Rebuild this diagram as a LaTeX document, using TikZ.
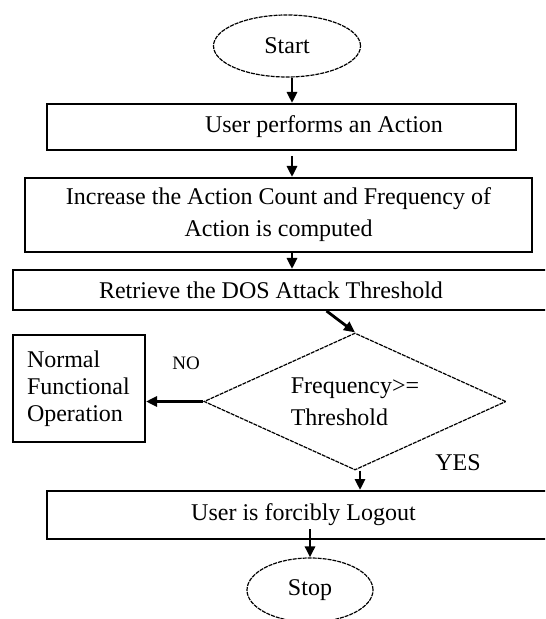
\documentclass[tikz,border=0pt]{standalone}
\usepackage{fontspec}
\setmainfont{Liberation Serif}
\usetikzlibrary{shapes.geometric,arrows.meta}

\begin{document}
\begin{tikzpicture}[x=0.5pt,y=-0.5pt,
  every node/.style={font=\fontsize{12pt}{16pt}\selectfont},
  box/.style={draw,line width=1pt,inner sep=0pt,align=center},
  oval/.style={draw,ellipse,line width=0.6pt,dash pattern=on 2pt off 0.5pt,inner sep=0pt},
  arr/.style={line width=1.4pt,-{Triangle[length=5.5pt,width=5pt]}}]
  \useasboundingbox (0,0) rectangle (545,619);
  \clip (0,0) rectangle (545,619);
  \coordinate (axis) at (292,0);
  % flow boxes
  \node[oval,minimum width=73.5pt,minimum height=31pt] (start) at (287,46) {Start};
  \node[box,minimum width=234.5pt,minimum height=23pt] (act) at (281.5,127) {\hspace*{42.5pt}User performs an Action};
  \node[box,minimum width=253.5pt,minimum height=37pt] (count) at (278.5,215) {Increase the Action Count and Frequency of\\Action is computed};
  \node[box,minimum width=273.5pt,minimum height=20pt] (thresh) at (286.5,290) {Retrieve the DOS Attack Threshold\hspace*{15.5pt}};
  \node[draw,diamond,aspect=2.2,line width=0.6pt,dash pattern=on 2pt off 0.5pt,inner sep=0pt,
        minimum width=151pt,minimum height=68.5pt,align=left] (dec) at (355,401.5) {Frequency>=\\Threshold\hspace*{5pt}};
  \node[box,minimum width=66pt,minimum height=53.5pt,text width=52pt,align=left,
        font=\fontsize{12pt}{13.5pt}\selectfont] (normal) at (79,388.5) {Normal\\Functional\\Operation\\[-3pt]};
  \node[box,minimum width=256.5pt,minimum height=24pt] (logout) at (303.5,515) {User is forcibly Logout};
  \node[oval,minimum width=63pt,minimum height=32pt] (stop) at (310,590) {Stop};
  % labels
  \node[font=\fontsize{9.5pt}{11pt}\selectfont] (no) at (186,363) {NO};
  \node (yes) at (458,463) {YES};
  % arrows
  \draw[arr] (start.south -| axis) -- (act.north -| axis);
  \draw[arr] ([yshift=-2.5pt]act.south -| axis) -- (count.north -| axis);
  \draw[arr] (count.south -| axis) -- (thresh.north -| axis);
  \draw[arr] ([xshift=20pt]thresh.south) -- (dec.north);
  \draw[arr] (dec.west) -- (dec.west -| normal.east);
  \draw[arr] ([xshift=2.5pt]dec.south) -- ([xshift=2.5pt]dec.south |- logout.north);
  \draw[arr] ([yshift=5.5pt]logout.south -| stop) -- (stop.north);
\end{tikzpicture}
\end{document}
